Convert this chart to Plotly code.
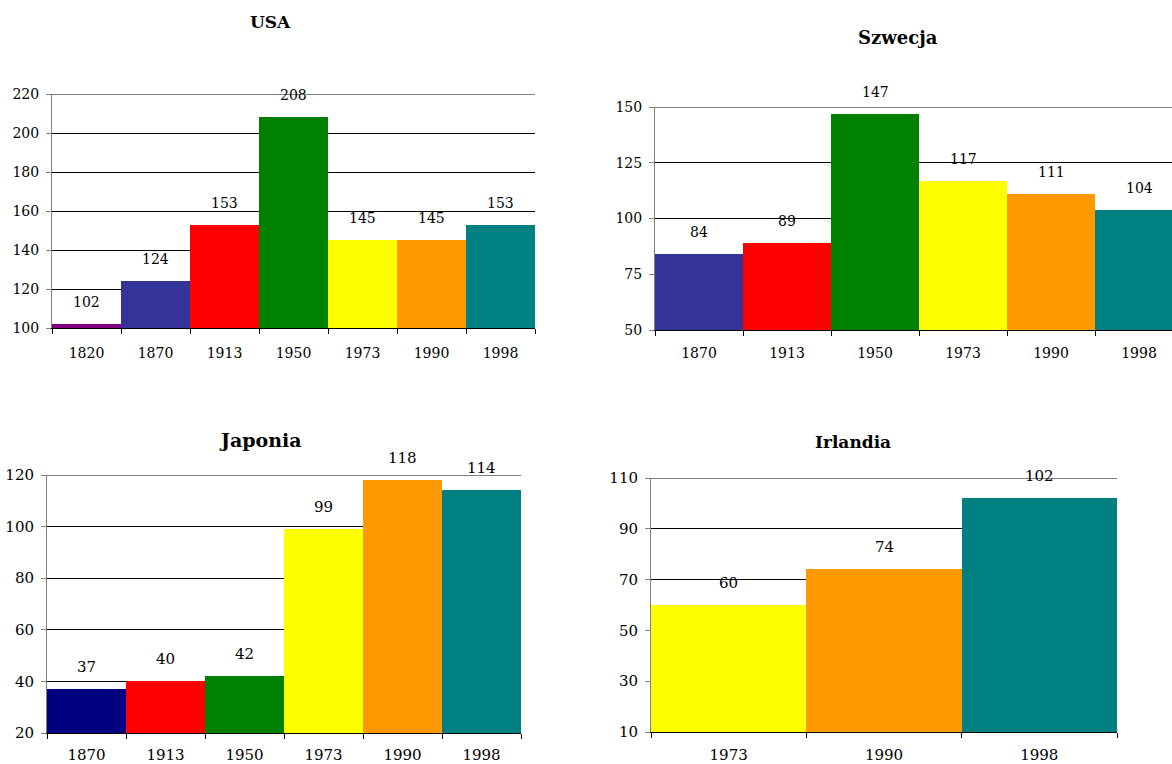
import plotly.graph_objects as go

# GDP indices per country and year
usa_years = ["1820", "1870", "1913", "1950", "1973", "1990", "1998"]
usa_values = [102, 124, 153, 208, 145, 145, 153]

swe_years = ["1870", "1913", "1950", "1973", "1990", "1998"]
swe_values = [84, 89, 147, 117, 111, 104]

jpn_years = ["1870", "1913", "1950", "1973", "1990", "1998"]
jpn_values = [37, 40, 42, 99, 118, 114]

irl_years = ["1973", "1990", "1998"]
irl_values = [60, 74, 102]

year_colors = {
    "1820": "#800080",
    "1870": "#333399",
    "1913": "#FF0000",
    "1950": "#008000",
    "1973": "#FFFF00",
    "1990": "#FF9900",
    "1998": "#008080",
}

W, H = 1172, 764
FONT = "DejaVu Serif"


def px_x(x):
    return x / W


def px_y(y):
    return 1 - y / H


panels = [
    dict(title="USA", years=usa_years, values=usa_values, ax="",
         xdom=(52, 535), ydom=(94, 328), yr=(100, 220), dt=20, fs=14,
         tpos=(270, 22), tfs=17, xr=None, colors=None, lstand=12),
    dict(title="Szwecja", years=swe_years, values=swe_values, ax="2",
         xdom=(655, 1172), ydom=(107, 330), yr=(50, 150), dt=25, fs=14,
         tpos=(898, 37), tfs=18, xr=(-0.5, 5.375), colors=None, lstand=10),
    dict(title="Japonia", years=jpn_years, values=jpn_values, ax="3",
         xdom=(47, 521), ydom=(475, 733), yr=(20, 120), dt=20, fs=15,
         tpos=(260, 440), tfs=19, xr=None,
         colors=["#000080"] + [year_colors[y] for y in jpn_years[1:]], lstand=8),
    dict(title="Irlandia", years=irl_years, values=irl_values, ax="4",
         xdom=(651, 1117), ydom=(478, 732), yr=(10, 110), dt=20, fs=15,
         tpos=(853, 442), tfs=17, xr=None, colors=None, lstand=9),
]

fig = go.Figure()
annotations = []
layout = {}

for p in panels:
    colors = p["colors"] or [year_colors[y] for y in p["years"]]
    xa = "x" + p["ax"]
    ya = "y" + p["ax"]
    fig.add_trace(go.Bar(
        x=p["years"], y=p["values"], xaxis=xa, yaxis=ya,
        marker=dict(color=colors, line=dict(width=0)),
        showlegend=False, hoverinfo="x+y",
    ))

    layout["xaxis" + p["ax"]] = dict(
        domain=[px_x(p["xdom"][0]), px_x(p["xdom"][1])],
        anchor=ya, type="category", automargin=False,
        range=list(p["xr"]) if p["xr"] else [-0.5, len(p["years"]) - 0.5],
        showline=True, linecolor="#000000", linewidth=1, mirror=False,
        ticks="outside", tickson="boundaries", ticklen=5, tickcolor="#000000",
        showgrid=False, ticklabelstandoff=p["lstand"],
        tickfont=dict(family=FONT, size=p["fs"], color="#000000"),
        fixedrange=True,
    )
    layout["yaxis" + p["ax"]] = dict(
        domain=[px_y(p["ydom"][1]), px_y(p["ydom"][0])],
        anchor=xa, range=list(p["yr"]), dtick=p["dt"], tick0=p["yr"][0],
        showline=True, linecolor="#808080", linewidth=1, automargin=False,
        ticks="outside", ticklen=5, tickcolor="#808080",
        showgrid=True, gridcolor="#000000", gridwidth=1,
        zeroline=False, ticklabelstandoff=4,
        tickfont=dict(family=FONT, size=p["fs"], color="#000000"),
        fixedrange=True,
    )
    # gridline along the top of the value range
    fig.add_shape(
        type="line", xref=xa + " domain", yref=ya,
        x0=0, x1=1, y0=p["yr"][1], y1=p["yr"][1],
        line=dict(color="#000000", width=1), layer="below",
    )
    # value labels above each bar
    for i, v in enumerate(p["values"]):
        annotations.append(dict(
            x=i, y=v, xref=xa, yref=ya, text=str(v), showarrow=False,
            yanchor="middle", yshift=22,
            font=dict(family=FONT, size=p["fs"], color="#000000"),
        ))
    annotations.append(dict(
        x=px_x(p["tpos"][0]), y=px_y(p["tpos"][1]), xref="paper", yref="paper",
        text="<b>%s</b>" % p["title"], showarrow=False,
        xanchor="center", yanchor="middle",
        font=dict(family=FONT, size=p["tfs"], color="#000000"),
    ))

fig.update_layout(
    width=W, height=H,
    margin=dict(l=0, r=0, t=0, b=0, autoexpand=False),
    paper_bgcolor="#FFFFFF", plot_bgcolor="#FFFFFF",
    bargap=0, annotations=annotations,
    **layout,
)

fig.write_html("out.html")
